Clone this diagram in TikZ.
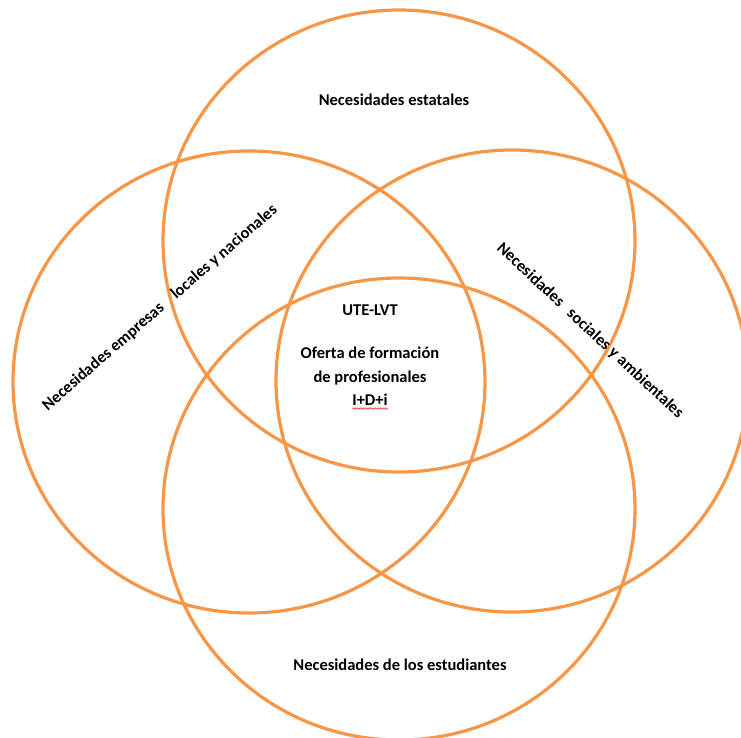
\documentclass[tikz,border=0pt]{standalone}
\usepackage{fontspec}
\setmainfont{Carlito}
\usetikzlibrary{decorations.pathmorphing}
\definecolor{ringorange}{RGB}{247,150,70}
\definecolor{spellred}{RGB}{220,40,40}

\begin{document}
\begin{tikzpicture}[x=1pt,y=-1pt,
    ring/.style={draw=ringorange,line width=3.2pt},
    need/.style={font=\bfseries\fontsize{16.5}{24}\selectfont,inner sep=0pt}]
\useasboundingbox (0,0) rectangle (741,738);
% the four circles: top, left, right, bottom
\foreach \cx/\cy [count=\i] in {399/241,249/382,512/381,399/509}
  \draw[ring] (\cx,\cy) ellipse [x radius=236,y radius=231];
% labels
\node[need] (estatales) at (394,100) {Necesidades estatales};
\node[need] (estudiantes) at (400,665) {Necesidades de los estudiantes};
\node[need,rotate=41] (empresas) at (160,308) {Necesidades empresas\hspace{0.9em}locales y nacionales};
\node[need,rotate=-43] (sociales) at (590,331) {Necesidades\hspace{0.6em}sociales y ambientales};
\node[need] (ute) at (370,310) {UTE-LVT};
\node[need,align=center] (oferta) at (370,366) {Oferta de formación\\de profesionales};
\node[need] (idi) at (370,400) {I+D+i};
\coordinate (wavyL) at ([yshift=-2.5pt]idi.south west);
\coordinate (wavyR) at ([yshift=-2.5pt]idi.south east);
\draw[spellred,line width=0.5pt,decorate,decoration={snake,amplitude=0.8pt,segment length=2.5pt}]
  (wavyL) -- (wavyR);
\end{tikzpicture}
\end{document}
